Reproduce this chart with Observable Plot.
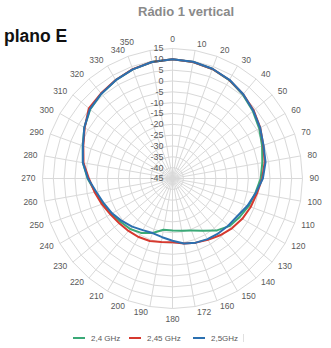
<!DOCTYPE html>
<html><head><meta charset="utf-8">
<script src="https://cdn.jsdelivr.net/npm/d3@7"></script>
<script src="https://cdn.jsdelivr.net/npm/@observablehq/plot@0.6"></script>
<style>
body{margin:0;background:#fff;}
#wrap{position:relative;width:331px;height:348px;overflow:hidden;font-family:"Liberation Sans",Arial,sans-serif;}
#title{position:absolute;left:138px;top:4px;font-size:13px;line-height:15px;font-weight:bold;color:#8a8a8a;white-space:nowrap;}
#sub{position:absolute;left:4px;top:26px;font-size:17.5px;line-height:20px;font-weight:bold;color:#111;white-space:nowrap;}
#chart{position:absolute;left:0;top:0;}
#legend{position:absolute;left:0;top:331px;width:331px;height:14px;font-size:8px;color:#595959;}
.item{position:absolute;top:0;display:flex;align-items:center;height:14px;white-space:nowrap;}
.sw{display:inline-block;width:12px;height:2px;margin-right:6px;}
#tick{position:absolute;left:243px;top:334px;width:1px;height:8px;background:#e0e0e0;}
</style></head>
<body><div id="wrap">
<div id="chart"></div>
<div id="title">Rádio 1 vertical</div>
<div id="sub">plano E</div>
<div id="legend"></div>
<div id="tick"></div>
</div>
<script>
const angles = [0,10,20,30,40,50,60,70,80,90,100,110,120,130,140,150,160,170,180,190,200,210,220,230,240,250,260,270,280,290,300,310,320,330,340,350];
const angleLabels = ["0","10","20","30","40","50","60","70","80","90","100","110","120","130","140","150","160","172","180","190","200","210","220","230","240","250","260","270","280","290","300","310","320","330","340","350"];
const radialTicks = [15,10,5,0,-5,-10,-15,-20,-25,-30,-35,-40,-45];
const seriesNames = ["2,4 GHz","2,45 GHz","2,5GHz"];
const ghz24 = [10.0,9.6,8.8,7.4,5.5,3.4,1.2,-1.0,-2.9,-4.3,-6.2,-7.6,-9.3,-10.8,-13.6,-17.2,-19.4,-20.5,-21.0,-21.0,-18.2,-16.0,-14.6,-13.8,-12.2,-10.8,-8.8,-5.8,-3.0,-0.9,2.0,4.6,6.1,7.4,8.6,9.6];
const ghz245 = [10.0,9.6,8.8,7.5,5.8,3.9,1.8,-0.4,-1.8,-3.6,-5.4,-6.6,-7.8,-9.2,-10.8,-12.3,-13.5,-14.5,-15.6,-15.2,-14.3,-13.8,-13.4,-12.9,-11.9,-10.3,-8.5,-6.4,-3.3,-1.2,1.8,5.4,6.3,7.5,8.7,9.6];
const ghz25 = [10.0,9.7,8.9,7.6,5.8,3.7,1.7,-0.3,-1.4,-3.3,-6.0,-8.2,-10.4,-11.3,-12.0,-12.7,-13.5,-14.5,-16.3,-17.5,-18.2,-17.5,-16.0,-14.5,-12.8,-11.3,-9.3,-6.0,-3.0,-1.0,2.0,4.8,6.1,7.4,8.6,9.6];
const colors = ["#3aa977","#d6392f","#2b70b0"];

const rMin = -45, rMax = 15;
const R = d3.scaleLinear().domain([rMin, rMax]).range([0, 130]);
const rad = a => a * Math.PI / 180;
const px = (a, r) => r * Math.sin(rad(a));
const py = (a, r) => r * Math.cos(rad(a));

// grid rings (closed 36-gons like Excel)
const rings = [];
radialTicks.filter(t => t > rMin).forEach(t => {
  [...angles, 360].forEach(a => rings.push({ring: t, x: px(a, R(t)), y: py(a, R(t))}));
});

// series rows (closed)
const seriesVals = [ghz24, ghz245, ghz25];
const rows = [];
seriesNames.forEach((s, i) => {
  [...angles.keys(), 0].forEach(j => {
    const a = angles[j], v = seriesVals[i][j];
    rows.push({series: s, x: px(a, R(v)), y: py(a, R(v))});
  });
});

const LR = 136; // label anchor radius (px)
const labs = angles.map((a, i) => ({a, text: angleLabels[i], x: px(a, LR), y: py(a, LR)}));

const tcol = "#595959";
const fs = 8.5;
const chart = Plot.plot({
  width: 331, height: 348, margin: 0,
  x: {domain: [-172, 159], axis: null},
  y: {domain: [-170, 178], axis: null},
  color: {domain: seriesNames, range: colors},
  style: {background: "transparent"},
  marks: [
    Plot.line(rings, {x: "x", y: "y", z: "ring", stroke: "#d9d9d9", strokeWidth: 1}),
    Plot.link(angles, {x1: 0, y1: 0, x2: a => px(a, R(rMax)), y2: a => py(a, R(rMax)), stroke: "#d9d9d9", strokeWidth: 1}),
    Plot.line(rows, {x: "x", y: "y", z: "series", stroke: "series", strokeWidth: 2, strokeLinejoin: "round"}),
    Plot.text(radialTicks, {x: 0, y: t => R(t), text: t => String(t), textAnchor: "end", dx: -9, fontSize: 9, fill: tcol, fontFamily: "Liberation Sans"}),
    Plot.text(labs, {filter: d => d.a === 0, x: "x", y: "y", text: "text", textAnchor: "middle", lineAnchor: "bottom", dy: -1, fontSize: fs, fill: tcol, fontFamily: "Liberation Sans"}),
    Plot.text(labs, {filter: d => d.a === 180, x: "x", y: "y", text: "text", textAnchor: "middle", lineAnchor: "top", dy: 1, fontSize: fs, fill: tcol, fontFamily: "Liberation Sans"}),
    Plot.text(labs, {filter: d => d.a > 0 && d.a < 180, x: "x", y: "y", text: "text", textAnchor: "start", dx: 1, fontSize: fs, fill: tcol, fontFamily: "Liberation Sans"}),
    Plot.text(labs, {filter: d => d.a > 180 && d.a < 350, x: "x", y: "y", text: "text", textAnchor: "end", dx: -1, fontSize: fs, fill: tcol, fontFamily: "Liberation Sans"}),
    Plot.text(labs, {filter: d => d.a === 350, x: "x", y: "y", text: "text", textAnchor: "end", dx: -15, dy: -2, fontSize: fs, fill: tcol, fontFamily: "Liberation Sans"})
  ]
});
document.getElementById("chart").appendChild(chart);

const leg = document.getElementById("legend");
const legX = [73, 129, 193];
seriesNames.forEach((s, i) => {
  const it = document.createElement("div");
  it.className = "item";
  it.style.left = legX[i] + "px";
  it.innerHTML = `<span class="sw" style="background:${colors[i]}"></span><span>${s}</span>`;
  leg.appendChild(it);
});
</script>
</body></html>
